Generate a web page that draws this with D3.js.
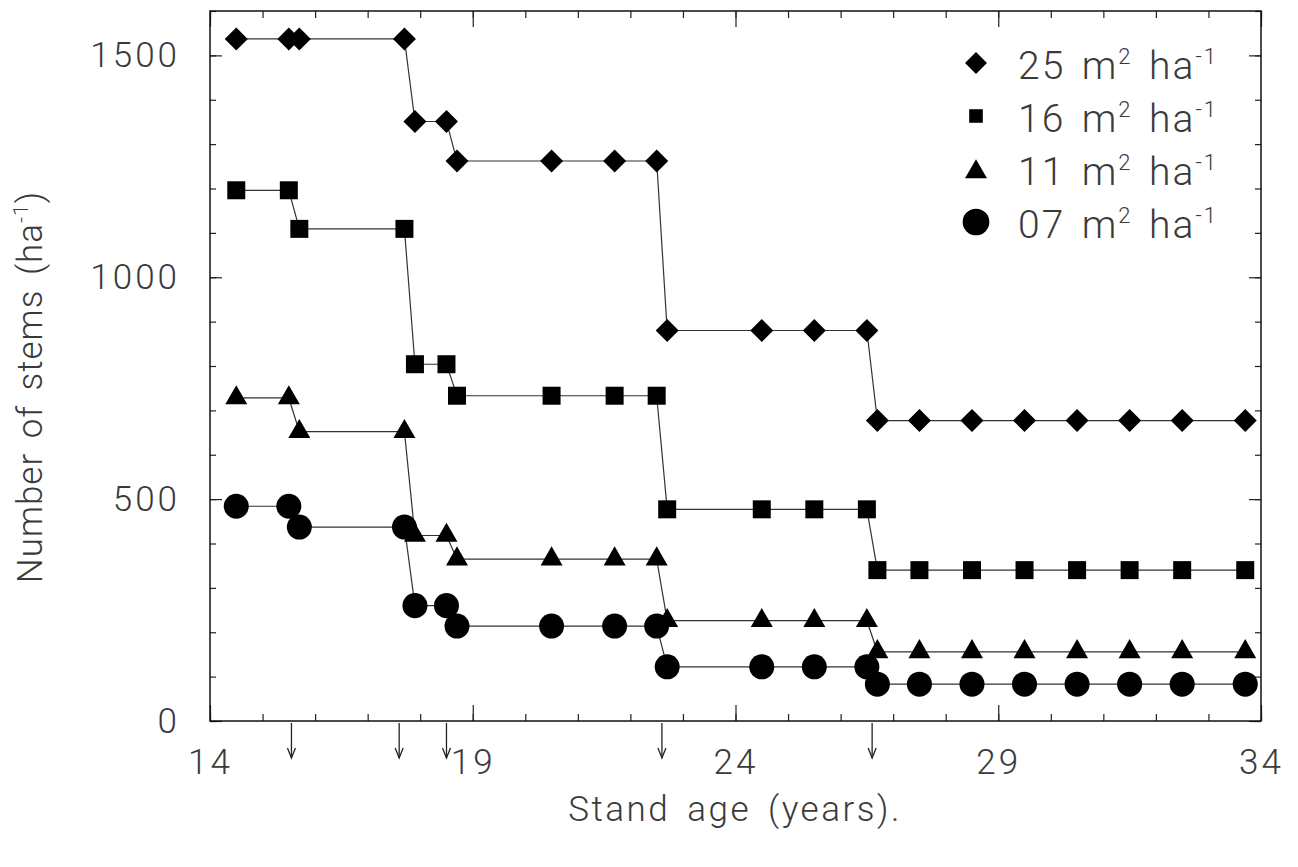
<!DOCTYPE html>
<html>
<head>
<meta charset="utf-8">
<script src="https://cdn.jsdelivr.net/npm/d3@7"></script>
<style>
  body { margin: 0; background: #fff; }
  svg text { font-family: "Roboto", "Liberation Sans", sans-serif; font-weight: 300; fill: #3a3a3a; }
</style>
</head>
<body>
<div id="chart"></div>
<script>

//**************************************************************************
//** Data
//**************************************************************************
var ages = [14.5, 15.5, 15.7, 17.7, 17.9, 18.5, 18.7, 20.5, 21.7, 22.5, 22.7,
            24.5, 25.5, 26.5, 26.7, 27.5, 28.5, 29.5, 30.5, 31.5, 32.5, 33.7];

var stems25 = [1537, 1537, 1537, 1537, 1351, 1351, 1262, 1262, 1262, 1262, 880,
               880, 880, 880, 677, 677, 677, 677, 677, 677, 677, 677];
var stems16 = [1196, 1196, 1109, 1109, 804, 804, 733, 733, 733, 733, 477,
               477, 477, 477, 340, 340, 340, 340, 340, 340, 340, 340];
var stems11 = [728, 728, 652, 652, 418, 418, 365, 365, 365, 365, 226,
               226, 226, 226, 156, 156, 156, 156, 156, 156, 156, 156];
var stems07 = [484, 484, 437, 437, 260, 260, 214, 214, 214, 214, 122,
               122, 122, 122, 83, 83, 83, 83, 83, 83, 83, 83];

var seriesLabels = ["25", "16", "11", "07"];
var thinningAges = [15.55, 17.6, 18.5, 22.6, 26.6];

var xTicks = [14, 19, 24, 29, 34];
var yTicks = [0, 500, 1000, 1500];


//**************************************************************************
//** Layout
//**************************************************************************
var width = 1298, height = 867;
var margin = {top: 11, right: 37, bottom: 146, left: 210};
var plotW = width - margin.left - margin.right;
var plotH = height - margin.top - margin.bottom;

var svg = d3.select("#chart").append("svg")
    .attr("width", width)
    .attr("height", height);

var g = svg.append("g")
    .attr("transform", "translate(" + margin.left + "," + margin.top + ")");

var x = d3.scaleLinear().domain([14, 34]).range([0, plotW]);
var y = d3.scaleLinear().domain([0, 1600]).range([plotH, 0]);

var series = [
    {label: seriesLabels[0], values: stems25, shape: "diamond"},
    {label: seriesLabels[1], values: stems16, shape: "square"},
    {label: seriesLabels[2], values: stems11, shape: "triangle"},
    {label: seriesLabels[3], values: stems07, shape: "circle"}
];

var symbolPath = function(shape, small){
    switch (shape) {
        case "diamond": return d3.symbol().type(d3.symbolSquare).size(small ? 240 : 265)();
        case "square": return d3.symbol().type(d3.symbolSquare).size(small ? 185 : 324)();
        case "triangle": return d3.symbol().type(d3.symbolTriangle).size(210)();
        default: return d3.symbol().type(d3.symbolCircle).size(small ? 560 : 491)();
    }
};


//**************************************************************************
//** Axes (ticks inward on all four sides)
//**************************************************************************
var minorX = d3.range(14, 35);
var minorY = d3.range(0, 1601, 100);

var styleAxis = function(sel){
    sel.select(".domain").remove();
    sel.selectAll("line").attr("stroke", "#222").attr("stroke-width", 1.2);
};

var styleLabels = function(sel){
    sel.selectAll("text")
        .attr("font-family", null)
        .attr("font-size", 35)
        .attr("letter-spacing", 3)
        .attr("fill", "#3a3a3a");
};

g.append("g").attr("transform", "translate(0," + plotH + ")")
    .call(d3.axisBottom(x).tickValues(minorX).tickSize(-7).tickFormat(""))
    .call(styleAxis);
g.append("g").attr("transform", "translate(0," + plotH + ")")
    .call(d3.axisBottom(x).tickValues(xTicks).tickSize(-16).tickPadding(28).tickFormat(d3.format("d")))
    .call(styleAxis)
    .call(styleLabels);

g.append("g")
    .call(d3.axisTop(x).tickValues(minorX).tickSize(-7).tickFormat(""))
    .call(styleAxis);
g.append("g")
    .call(d3.axisTop(x).tickValues(xTicks).tickSize(-16).tickFormat(""))
    .call(styleAxis);

g.append("g")
    .call(d3.axisLeft(y).tickValues(minorY).tickSize(-6).tickFormat(""))
    .call(styleAxis);
g.append("g")
    .call(d3.axisLeft(y).tickValues(yTicks).tickSize(-12).tickPadding(30).tickFormat(d3.format("d")))
    .call(styleAxis)
    .call(styleLabels);

g.append("g").attr("transform", "translate(" + plotW + ",0)")
    .call(d3.axisRight(y).tickValues(minorY).tickSize(-6).tickFormat(""))
    .call(styleAxis);
g.append("g").attr("transform", "translate(" + plotW + ",0)")
    .call(d3.axisRight(y).tickValues(yTicks).tickSize(-12).tickFormat(""))
    .call(styleAxis);

//Frame
g.append("rect")
    .attr("width", plotW)
    .attr("height", plotH)
    .attr("fill", "none")
    .attr("stroke", "#111")
    .attr("stroke-width", 1.5);


//**************************************************************************
//** Thinning arrows below the x axis
//**************************************************************************
var arrows = g.append("g").attr("stroke", "#222").attr("stroke-width", 1.3).attr("fill", "none");
thinningAges.forEach(function(a){
    var ax = x(a);
    arrows.append("line")
        .attr("x1", ax).attr("x2", ax)
        .attr("y1", plotH + 2).attr("y2", plotH + 37);
    arrows.append("path")
        .attr("d", "M" + (ax - 4) + "," + (plotH + 27) + "L" + ax + "," + (plotH + 37) + "L" + (ax + 4) + "," + (plotH + 27));
});


//**************************************************************************
//** Series
//**************************************************************************
var line = d3.line()
    .x(function(d, i){ return x(ages[i]); })
    .y(function(d){ return y(d); });

series.forEach(function(s){
    g.append("path")
        .datum(s.values)
        .attr("d", line)
        .attr("fill", "none")
        .attr("stroke", "#333")
        .attr("stroke-width", 1.2);
});

series.forEach(function(s){
    g.append("g").selectAll("path")
        .data(s.values)
        .enter()
        .append("path")
        .attr("d", symbolPath(s.shape))
        .attr("transform", function(d, i){
            var t = "translate(" + x(ages[i]) + "," + y(d) + ")";
            return s.shape === "diamond" ? t + " rotate(45)" : t;
        })
        .attr("fill", "#000");
});


//**************************************************************************
//** Legend
//**************************************************************************
var legend = svg.append("g").attr("transform", "translate(976,63)");
series.forEach(function(s, i){
    var row = legend.append("g").attr("transform", "translate(0," + (i * 53) + ")");
    row.append("path")
        .attr("d", symbolPath(s.shape, true))
        .attr("transform", s.shape === "diamond" ? "rotate(45)" : (s.shape === "triangle" ? "translate(0,3)" : null))
        .attr("fill", "#000");
    var t = row.append("text")
        .attr("x", 42)
        .attr("y", 16)
        .attr("font-size", 39)
        .attr("letter-spacing", 2)
        .attr("word-spacing", 5)
        .attr("xml:space", "preserve");
    t.append("tspan").text(s.label + " m");
    t.append("tspan").attr("font-size", 22).attr("dy", -15).text("2");
    t.append("tspan").attr("dy", 15).text(" ha");
    t.append("tspan").attr("font-size", 22).attr("dy", -15).text("-1");
});


//**************************************************************************
//** Axis titles
//**************************************************************************
svg.append("text")
    .attr("x", 735)
    .attr("y", 821)
    .attr("text-anchor", "middle")
    .attr("font-size", 35)
    .attr("letter-spacing", 2.5)
    .attr("word-spacing", 6)
    .text("Stand age (years).");

var yTitle = svg.append("text")
    .attr("transform", "translate(42,387) rotate(-90)")
    .attr("text-anchor", "middle")
    .attr("font-size", 35)
    .attr("letter-spacing", 1)
    .attr("word-spacing", 5);
yTitle.append("tspan").text("Number of stems (ha");
yTitle.append("tspan").attr("font-size", 21).attr("dy", -14).text("-1");
yTitle.append("tspan").attr("dy", 14).text(")");

</script>
</body>
</html>
